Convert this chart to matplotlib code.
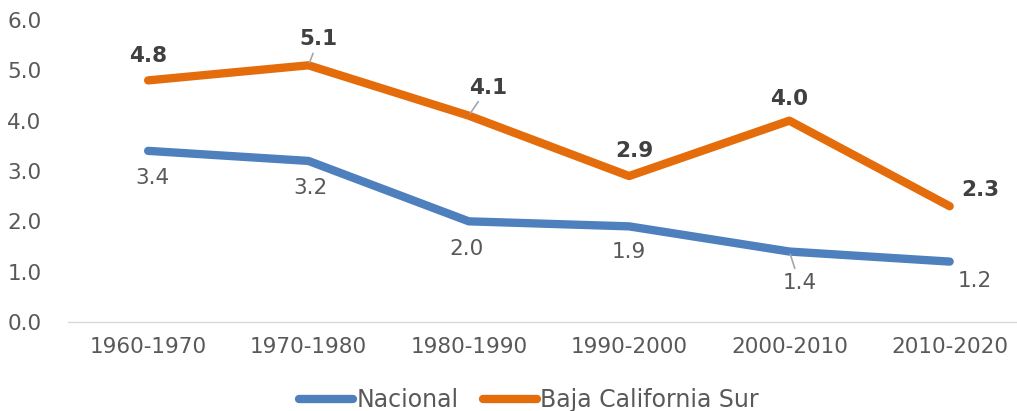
import matplotlib
matplotlib.use("Agg")
import matplotlib.pyplot as plt

categories = ["1960-1970", "1970-1980", "1980-1990", "1990-2000", "2000-2010", "2010-2020"]
nacional = [3.4, 3.2, 2.0, 1.9, 1.4, 1.2]
bcs = [4.8, 5.1, 4.1, 2.9, 4.0, 2.3]
yticks = [0.0, 1.0, 2.0, 3.0, 4.0, 5.0, 6.0]

plt.rcParams['font.family'] = ['DejaVu Sans']
BLUE = "#4e80bd"
ORANGE = "#e46c0a"
GRAY = "#595959"

fig = plt.figure(figsize=(10.17, 4.11), dpi=100)
ax = fig.add_axes([68/1017, (411-322)/411, 1 - 68/1017, (322-20)/411])
x = list(range(len(categories)))
ax.plot(x, nacional, color=BLUE, lw=6, solid_capstyle='round', solid_joinstyle='round', label="Nacional")
ax.plot(x, bcs, color=ORANGE, lw=6, solid_capstyle='round', solid_joinstyle='round', label="Baja California Sur")

ax.set_ylim(0, 6)
ax.set_xlim(-0.5, 5.42)
ax.set_yticks(yticks)
ax.set_yticklabels([f"{v:.1f}" for v in yticks])
ax.set_xticks(x)
ax.set_xticklabels(categories)
ax.tick_params(axis='both', length=0, labelsize=15.5, colors=GRAY)
ax.tick_params(axis='x', pad=11)
ax.tick_params(axis='y', pad=19)
for s in ['top', 'right', 'left']:
    ax.spines[s].set_visible(False)
ax.spines['bottom'].set_color('#d9d9d9')
ax.spines['bottom'].set_linewidth(1)

orange_off = [(0, 24), (10, 26), (19, 28), (5, 25), (0, 22), (31, 16)]
blue_off = [(4, -27), (2, -27), (-2, -28), (0, -26), (10, -31), (25, -19)]
orange_lead = [False, True, True, False, False, False]
blue_lead = [False, False, False, False, True, False]

for i, (v, off, ld) in enumerate(zip(bcs, orange_off, orange_lead)):
    kw = {}
    if ld:
        kw['arrowprops'] = dict(arrowstyle='-', color='#a6a6a6', lw=1.2, shrinkA=1, shrinkB=2)
    ax.annotate(f"{v:.1f}", (i, v), xytext=off, textcoords='offset pixels',
                ha='center', va='center', fontsize=15.5, fontweight='bold', color='#404040', **kw)
for i, (v, off, ld) in enumerate(zip(nacional, blue_off, blue_lead)):
    kw = {}
    if ld:
        kw['arrowprops'] = dict(arrowstyle='-', color='#a6a6a6', lw=1.2, shrinkA=1, shrinkB=2)
    ax.annotate(f"{v:.1f}", (i, v), xytext=off, textcoords='offset pixels',
                ha='center', va='center', fontsize=15.5, color=GRAY, **kw)

leg = fig.legend(loc='center', bbox_to_anchor=(529/1017, 1 - 400/411), ncol=2, frameon=False,
                 fontsize=17, handlelength=2.3, handletextpad=0.15, columnspacing=1.0)
for t in leg.get_texts():
    t.set_color(GRAY)

fig.savefig("out.png", dpi=100)
